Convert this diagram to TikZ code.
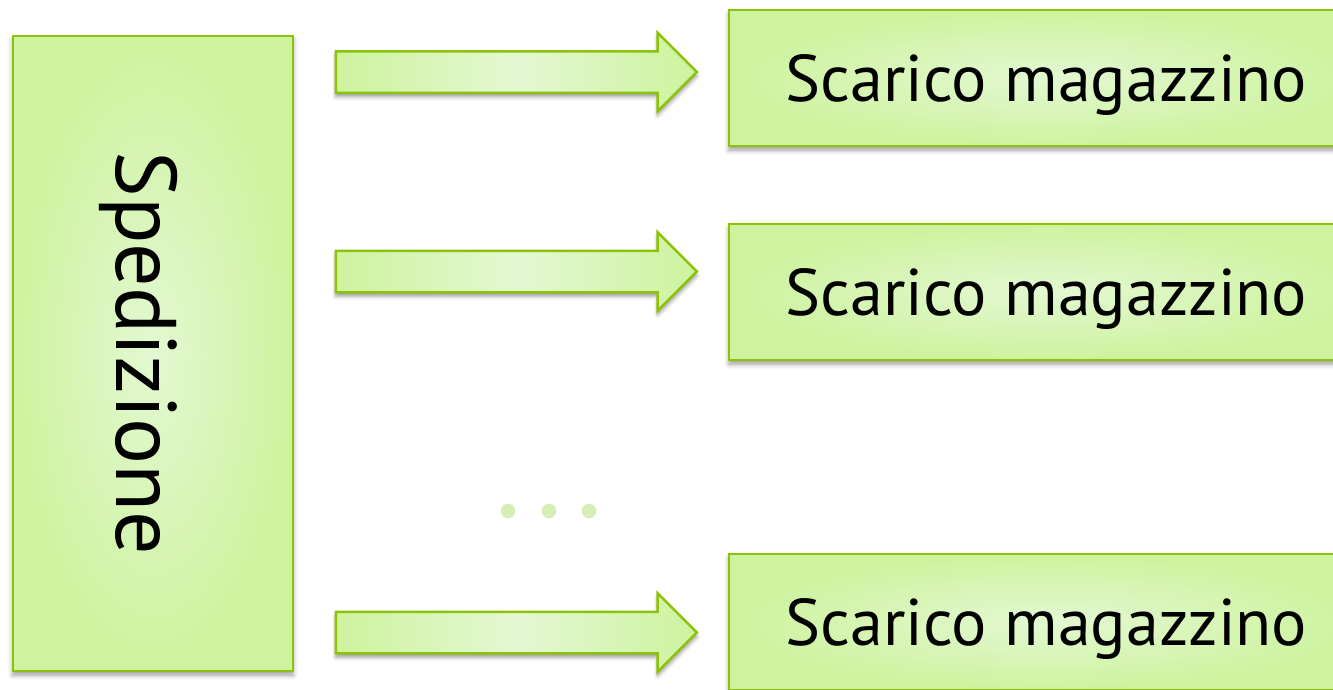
\documentclass[tikz,border=0pt]{standalone}
\usepackage{fontspec}
\setmainfont{PT Sans}
\usepackage{tikz}
\usetikzlibrary{shapes.arrows,positioning,shadows.blur}

\definecolor{leafline}{HTML}{8CC20A}
\definecolor{leafedge}{HTML}{CDF39E}
\definecolor{leafmid}{HTML}{E3F8D2}
\definecolor{leafdot}{HTML}{D6EEB5}

\tikzset{
  leafbox/.style={rectangle, draw=leafline, line width=2.5pt,
    inner color=leafmid, outer color=leafedge, inner sep=0pt,
    blur shadow={shadow xshift=0pt, shadow yshift=-4pt,
      shadow blur radius=5pt, shadow opacity=40}},
  spedbox/.style={leafbox, minimum width=280pt, minimum height=635pt},
  scaricobox/.style={leafbox, minimum width=635pt, minimum height=136pt,
    text depth=0pt, font=\fontsize{66}{74}\selectfont},
  spedlabel/.style={rotate=-90, inner sep=0pt, font=\fontsize{86}{94}\selectfont},
  flowarrow/.style={single arrow, draw=leafline, line width=2.5pt,
    inner xsep=0pt, inner ysep=19.5pt, text height=0pt, text depth=0pt,
    minimum height=361pt, single arrow head extend=18.5pt,
    left color=leafedge, right color=leafedge, middle color=leafmid,
    blur shadow={shadow xshift=0pt, shadow yshift=-4pt,
      shadow blur radius=4pt, shadow opacity=40}},
  dotmark/.style={circle, fill=leafdot, inner sep=0pt, minimum size=14.6pt},
}

\begin{document}
\begin{tikzpicture}[x=1pt, y=-1pt]
  \useasboundingbox (0,0) rectangle (1333,689);
  \clip (0,0) rectangle (1333,689);

  % ============ Source block (left) ============
  \node[spedbox] (sped) at (153,353.5) {};
  \node[spedlabel] (spedtext) at ([xshift=-14pt]sped.center) {Spedizione};

  % ============ Targets (right, running off the page) ============
  \node[scaricobox] (scarico1) at (1046.5,78)  {Scarico magazzino};
  \node[scaricobox] (scarico2) at (1046.5,292) {Scarico magazzino};
  \node[scaricobox] (scarico3) at (1046.5,622) {Scarico magazzino};

  % ============ Block arrows ============
  \node[flowarrow] (flow1) at (506,72)    {};
  \node[flowarrow] (flow2) at (506,271.5) {};
  \node[flowarrow] (flow3) at (506,632.5) {};

  % ============ Ellipsis ============
  \foreach \x [count=\i] in {508,549,589}
    \node[dotmark] (dot\i) at (\x,511) {};

\end{tikzpicture}
\end{document}
